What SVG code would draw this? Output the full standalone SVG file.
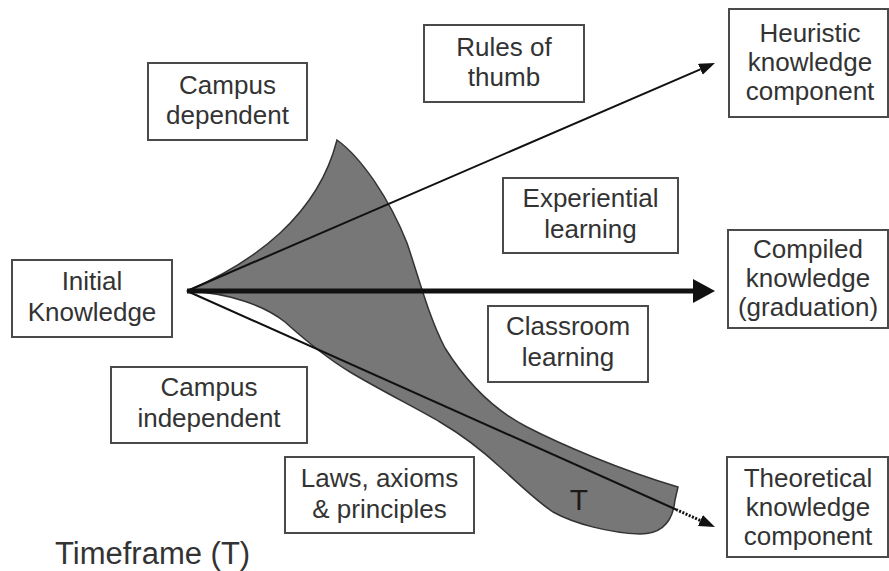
<svg xmlns="http://www.w3.org/2000/svg" width="889" height="571" viewBox="0 0 889 571">
<defs>
<style>
.box{fill:#fff;stroke:#4a4a4a;stroke-width:2}
.lbl{font-family:"Liberation Sans",Arial,sans-serif;font-size:26px;fill:#333;text-anchor:middle}
.conn{stroke:#111;fill:none}
</style>
<marker id="arrowThin" markerUnits="userSpaceOnUse" markerWidth="18" markerHeight="14" refX="0" refY="6" orient="auto">
<path d="M0,0 L16,6 L0,12 z" fill="#111"/>
</marker>
<marker id="arrowThick" markerUnits="userSpaceOnUse" markerWidth="24" markerHeight="26" refX="0" refY="12" orient="auto">
<path d="M0,0 L22,12 L0,24 z" fill="#111"/>
</marker>
</defs>
<rect width="889" height="571" fill="#fff"/>

<g id="timeframe-shape">
<path d="M187,291 C255,262 318,215 337,140 C362,158 390,200 407,243 C418,275 428,315 445,348 C465,380 490,408 527,427 C560,444 620,470 678,487 L675,500 C673,520 663,534 640,534 C610,533 575,524 553,512 C535,500 515,480 500,467 C485,453 462,435 440,422 C420,410 380,390 350,372 C330,360 305,340 285,322 C265,306 230,293 187,291 Z" fill="#777" stroke="#333" stroke-width="1.5"/>
<text x="579" y="510" style="font-family:'Liberation Sans',Arial,sans-serif;font-size:30px;fill:#1a1a1a;text-anchor:middle">T</text>
</g>

<g id="connectors">
<line class="conn" x1="187" y1="291" x2="700.3" y2="69.3" stroke-width="2" marker-end="url(#arrowThin)"/>
<line class="conn" x1="187" y1="291" x2="693" y2="291" stroke-width="5" marker-end="url(#arrowThick)"/>
<line class="conn" x1="187" y1="291" x2="676" y2="509.5" stroke-width="2"/>
<line class="conn" x1="676" y1="509.5" x2="700.4" y2="520.5" stroke-width="3" stroke-dasharray="2 1.5" marker-end="url(#arrowThin)"/>
</g>

<g id="campus-dependent">
<rect class="box" x="148" y="63" width="159" height="77"/>
<text class="lbl" x="227.5" y="94">Campus</text>
<text class="lbl" x="227.5" y="124">dependent</text>
</g>

<g id="rules-of-thumb">
<rect class="box" x="424" y="25" width="160" height="77"/>
<text class="lbl" x="504" y="56">Rules of</text>
<text class="lbl" x="504" y="86">thumb</text>
</g>

<g id="heuristic">
<rect class="box" x="729" y="9" width="159" height="108"/>
<text class="lbl" x="810" y="42">Heuristic</text>
<text class="lbl" x="810" y="71">knowledge</text>
<text class="lbl" x="810" y="100">component</text>
</g>

<g id="experiential">
<rect class="box" x="503" y="178" width="175" height="75"/>
<text class="lbl" x="590.5" y="207">Experiential</text>
<text class="lbl" x="590.5" y="238">learning</text>
</g>

<g id="initial-knowledge">
<rect class="box" x="12" y="260" width="160" height="77"/>
<text class="lbl" x="92" y="290">Initial</text>
<text class="lbl" x="92" y="321">Knowledge</text>
</g>

<g id="compiled">
<rect class="box" x="728" y="230" width="160" height="98"/>
<text class="lbl" x="808" y="258">Compiled</text>
<text class="lbl" x="808" y="287">knowledge</text>
<text class="lbl" x="808" y="316">(graduation)</text>
</g>

<g id="classroom">
<rect class="box" x="488" y="306" width="160" height="76"/>
<text class="lbl" x="568" y="335">Classroom</text>
<text class="lbl" x="568" y="366">learning</text>
</g>

<g id="campus-independent">
<rect class="box" x="111" y="367" width="196" height="76"/>
<text class="lbl" x="209" y="396">Campus</text>
<text class="lbl" x="209" y="427">independent</text>
</g>

<g id="laws">
<rect class="box" x="285" y="457" width="189" height="76"/>
<text class="lbl" x="379.5" y="487">Laws, axioms</text>
<text class="lbl" x="379.5" y="518">&amp; principles</text>
</g>

<g id="theoretical">
<rect class="box" x="727" y="457" width="161" height="100"/>
<text class="lbl" x="808" y="487">Theoretical</text>
<text class="lbl" x="808" y="516">knowledge</text>
<text class="lbl" x="808" y="545">component</text>
</g>

<text id="timeframe" x="55" y="564" style="font-family:'Liberation Sans',Arial,sans-serif;font-size:31px;fill:#333">Timeframe (T)</text>
</svg>
